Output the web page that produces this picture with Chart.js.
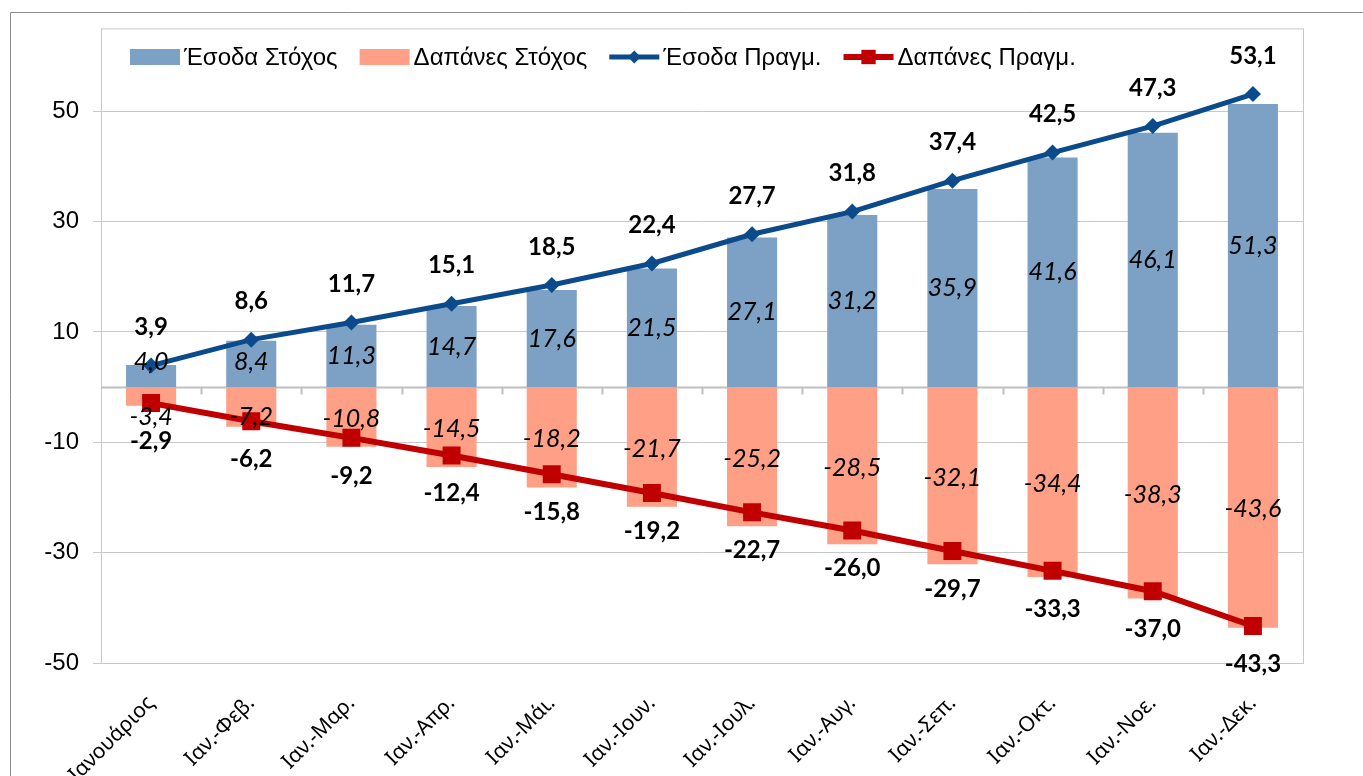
<!DOCTYPE html>
<html>
<head>
<meta charset="utf-8">
<script src="https://cdn.jsdelivr.net/npm/chart.js@4.4.1/dist/chart.umd.min.js"></script>
<style>
  html, body { margin: 0; padding: 0; background: #fff; }
  #wrap { width: 1363px; height: 776px; position: relative; }
</style>
</head>
<body>
<div id="wrap"><canvas id="chart"></canvas></div>
<script>
// ── Data ─────────────────────────────────────────────────────────────
const MONTHS = ['Ιανουάριος', 'Ιαν.-Φεβ.', 'Ιαν.-Μαρ.', 'Ιαν.-Απρ.', 'Ιαν.-Μάι.', 'Ιαν.-Ιουν.',
  'Ιαν.-Ιουλ.', 'Ιαν.-Αυγ.', 'Ιαν.-Σεπ.', 'Ιαν.-Οκτ.', 'Ιαν.-Νοε.', 'Ιαν.-Δεκ.'];
const REV_TARGET = [4.0, 8.4, 11.3, 14.7, 17.6, 21.5, 27.1, 31.2, 35.9, 41.6, 46.1, 51.3];
const EXP_TARGET = [-3.4, -7.2, -10.8, -14.5, -18.2, -21.7, -25.2, -28.5, -32.1, -34.4, -38.3, -43.6];
const REV_ACTUAL = [3.9, 8.6, 11.7, 15.1, 18.5, 22.4, 27.7, 31.8, 37.4, 42.5, 47.3, 53.1];
const EXP_ACTUAL = [-2.9, -6.2, -9.2, -12.4, -15.8, -19.2, -22.7, -26.0, -29.7, -33.3, -37.0, -43.3];
const Y_TICKS = [-50, -30, -10, 10, 30, 50];

const fmt = v => v.toFixed(1).replace('.', ',');
const ARIAL = '"Liberation Sans", Arial, sans-serif';
const CALIBRI = 'Lato, "Noto Sans", sans-serif';

// ── Frame, plot border, zero line with tick marks ────────────────────
const frame = {
  id: 'frame',
  beforeDraw(chart) {
    const { ctx } = chart;
    ctx.save();
    ctx.strokeStyle = '#8c8c8c';
    ctx.lineWidth = 1;
    ctx.beginPath();
    ctx.moveTo(10.5, 776); ctx.lineTo(10.5, 12.5); ctx.lineTo(1363, 12.5);
    ctx.stroke();
    ctx.restore();
  },
  beforeDatasetsDraw(chart) {
    const { ctx, chartArea: a, scales: { y } } = chart;
    ctx.save();
    ctx.strokeStyle = '#c8c8c8';
    ctx.lineWidth = 1;
    ctx.strokeRect(a.left + 0.5, a.top + 0.5, a.width, a.height);
    const y0 = Math.round(y.getPixelForValue(0)) + 0.5;
    ctx.strokeStyle = '#bfbfbf';
    ctx.lineWidth = 2;
    ctx.beginPath();
    ctx.moveTo(a.left, y0); ctx.lineTo(a.right, y0);
    const step = a.width / MONTHS.length;
    for (let i = 1; i < MONTHS.length; i++) {
      const px = Math.round(a.left + i * step) + 0.5;
      ctx.moveTo(px, y0); ctx.lineTo(px, y0 + 7);
    }
    ctx.stroke();
    ctx.restore();
  }
};

// ── Data labels ──────────────────────────────────────────────────────
const labels = {
  id: 'labels',
  afterDatasetsDraw(chart) {
    const { ctx, scales: { y } } = chart;
    const zero = y.getPixelForValue(0);
    ctx.save();
    ctx.fillStyle = '#000';
    ctx.textAlign = 'center';
    ctx.textBaseline = 'middle';
    chart.data.datasets.forEach((ds, di) => {
      const meta = chart.getDatasetMeta(di);
      meta.data.forEach((el, i) => {
        const v = ds.data[i];
        let ly;
        if (ds.type === 'bar') {
          ctx.font = 'italic 25px ' + CALIBRI;
          const mid = (el.y + el.base) / 2;
          ly = v >= 0 ? Math.min(mid, zero - 25) : Math.max(mid + 2, zero + 30);
        } else {
          ctx.font = 'bold 24px ' + CALIBRI;
          ly = v >= 0 ? el.y - 38 : el.y + 38;
        }
        ctx.fillText(fmt(v), el.x, ly);
      });
    });
    ctx.restore();
  }
};

// ── Legend inside plot area ──────────────────────────────────────────
const legendRow = {
  id: 'legendRow',
  afterDraw(chart) {
    const { ctx } = chart;
    const cy = 57;
    let x = 130;
    ctx.save();
    ctx.font = '24px ' + ARIAL;
    ctx.textBaseline = 'middle';
    ctx.textAlign = 'left';
    chart.data.datasets.forEach(ds => {
      if (ds.type === 'bar') {
        ctx.fillStyle = ds.backgroundColor;
        ctx.fillRect(x, cy - 8, 50, 16);
      } else {
        ctx.strokeStyle = ds.borderColor;
        ctx.lineWidth = ds.borderWidth;
        ctx.beginPath(); ctx.moveTo(x, cy); ctx.lineTo(x + 50, cy); ctx.stroke();
        ctx.fillStyle = ds.backgroundColor;
        Chart.helpers.drawPoint(ctx, { pointStyle: ds.pointStyle, radius: ds.pointRadius * 0.8, rotation: 0, borderWidth: 0 }, x + 25, cy);
      }
      ctx.fillStyle = '#000';
      ctx.fillText(ds.label, x + 54, cy + 1);
      x += 54 + ctx.measureText(ds.label).width + 22;
    });
    ctx.restore();
  }
};

new Chart(document.getElementById('chart'), {
  data: {
    labels: MONTHS,
    datasets: [
      { type: 'bar', label: 'Έσοδα Στόχος', data: REV_TARGET, backgroundColor: '#7da1c4',
        grouped: false, barPercentage: 0.5, categoryPercentage: 1, order: 2 },
      { type: 'bar', label: 'Δαπάνες Στόχος', data: EXP_TARGET, backgroundColor: '#ff9f86',
        grouped: false, barPercentage: 0.5, categoryPercentage: 1, order: 2 },
      { type: 'line', label: 'Έσοδα Πραγμ.', data: REV_ACTUAL, borderColor: '#0b4a8b', backgroundColor: '#0b4a8b',
        borderWidth: 5, pointStyle: 'rectRot', pointRadius: 8, pointBorderWidth: 0, tension: 0, order: 0 },
      { type: 'line', label: 'Δαπάνες Πραγμ.', data: EXP_ACTUAL, borderColor: '#c00000', backgroundColor: '#c00000',
        borderWidth: 6, pointStyle: 'rect', pointRadius: 12.7, pointBorderWidth: 0, tension: 0, order: 0 }
    ]
  },
  options: {
    responsive: true,
    maintainAspectRatio: false,
    animation: false,
    devicePixelRatio: 1,
    layout: { padding: { top: 27, right: 60, left: 0, bottom: 0 } },
    plugins: { legend: { display: false }, tooltip: { enabled: false } },
    scales: {
      x: {
        offset: true,
        grid: { display: false },
        border: { display: false },
        afterFit: s => { s.height = 113; },
        ticks: { maxRotation: 45, minRotation: 45, autoSkip: false, color: '#000', padding: 20,
          font: { family: '"Noto Sans", sans-serif', size: 21 } }
      },
      y: {
        min: -50, max: 65,
        afterBuildTicks: s => { s.ticks = Y_TICKS.map(v => ({ value: v })); },
        afterFit: s => { s.width = 101; },
        ticks: { color: '#000', padding: 14, font: { family: ARIAL, size: 24 } },
        grid: { color: '#c8c8c8', tickLength: 8 },
        border: { display: true, color: '#bfbfbf' }
      }
    }
  },
  plugins: [frame, labels, legendRow]
});
</script>
</body>
</html>
